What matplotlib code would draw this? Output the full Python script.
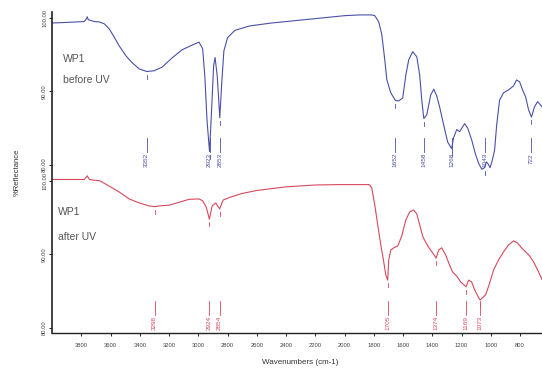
import matplotlib.pyplot as plt
import numpy as np

plt.rcParams['font.family'] = ['Liberation Sans', 'DejaVu Sans']

# WP1 before UV (wavenumber cm-1, %R)
before_wn = [4000, 3880, 3780, 3766, 3759, 3752, 3711, 3677, 3643, 3609, 3575, 3541,
             3493, 3452, 3404, 3352, 3302, 3247, 3179, 3111, 3042, 2995, 2970, 2955,
             2940, 2923, 2910, 2895, 2885, 2870, 2853, 2840, 2825, 2800, 2750, 2650,
             2500, 2300, 2100, 2000, 1900, 1814, 1793, 1766, 1745, 1725, 1711, 1684,
             1652, 1629, 1602, 1581, 1561, 1534, 1506, 1486, 1472, 1458, 1438, 1411,
             1390, 1370, 1349, 1322, 1295, 1268, 1254, 1233, 1213, 1192, 1179, 1158,
             1131, 1104, 1083, 1062, 1043, 1030, 1018, 1005, 990, 974, 960, 940,
             913, 878, 844, 824, 803, 783, 762, 742, 722, 701, 680, 650]
before_r = [99.3, 99.4, 99.5, 99.85, 100.15, 99.75, 99.5, 99.45, 99.2, 98.5, 97.4, 96.2,
            94.8, 93.9, 93.05, 92.7, 92.8, 93.3, 94.55, 95.65, 96.3, 96.7, 95.8, 92.0,
            86.0, 81.8, 87.0, 93.5, 94.6, 92.0, 86.4, 91.0, 95.5, 97.3, 98.3, 98.9,
            99.3, 99.7, 100.1, 100.3, 100.4, 100.4, 100.3, 99.45, 97.7, 94.3, 91.6, 89.8,
            88.75, 88.7, 89.1, 92.2, 94.3, 95.4, 94.7, 92.2, 88.8, 86.3, 86.8, 89.5,
            90.3, 89.4, 87.8, 85.4, 83.1, 82.2, 83.7, 84.8, 84.5, 85.2, 85.6, 85.0,
            83.4, 81.4, 80.2, 79.4, 79.6, 80.4, 80.1, 79.6, 80.6, 82.0, 85.4, 88.8,
            89.8, 90.2, 90.75, 91.55, 91.3, 90.2, 89.25, 87.5, 86.5, 87.9, 88.6, 87.9]

# WP1 after UV
after_wn = [4000, 3880, 3780, 3766, 3759, 3745, 3711, 3677, 3657, 3609, 3541, 3472,
            3404, 3336, 3298, 3268, 3199, 3131, 3063, 2995, 2970, 2945, 2924, 2905,
            2880, 2854, 2830, 2780, 2700, 2600, 2400, 2200, 2040, 1830, 1814, 1793,
            1773, 1752, 1732, 1718, 1705, 1698, 1684, 1663, 1636, 1609, 1581, 1554,
            1527, 1506, 1486, 1465, 1438, 1418, 1397, 1374, 1356, 1336, 1308, 1288,
            1261, 1233, 1206, 1169, 1152, 1131, 1111, 1083, 1073, 1035, 1008, 981,
            947, 913, 878, 844, 817, 790, 762, 735, 708, 680, 650]
after_r = [100.2, 100.2, 100.2, 100.5, 100.7, 100.2, 100.1, 100.05, 99.85, 99.3, 98.5, 97.55,
           97.0, 96.6, 96.5, 96.6, 96.7, 97.1, 97.5, 97.55, 97.3, 96.4, 94.8, 96.6,
           97.0, 96.2, 97.4, 97.8, 98.3, 98.7, 99.2, 99.45, 99.5, 99.5, 99.05, 96.7,
           94.0, 91.3, 89.0, 87.2, 86.5, 89.2, 90.6, 90.9, 91.15, 92.5, 94.7, 95.8,
           96.05, 95.5, 94.0, 92.4, 91.4, 90.75, 90.2, 89.5, 90.6, 90.9, 89.9, 88.85,
           87.6, 87.05, 86.25, 85.6, 86.5, 86.25, 85.2, 84.1, 83.8, 84.5, 86.1, 87.9,
           89.25, 90.35, 91.3, 91.85, 91.55, 90.9, 90.35, 89.8, 89.0, 87.9, 86.6]

before_peaks = [3352, 2923, 2853, 1652, 1458, 1268, 1043, 722]
after_peaks = [3298, 2924, 2854, 1705, 1374, 1169, 1073]

x_ticks = list(range(3800, 700, -200))
y_ticks = [80, 90, 100]

OFFSET = 22.2  # vertical shift of the upper spectrum
BLUE = '#4a50a8'
RED = '#d8485c'


def mark_peaks(ax, wn, r, peaks, offset, color):
    wn_up = np.array(wn)[::-1]
    r_up = np.array(r)[::-1]
    for p in peaks:
        v = np.interp(p, wn_up, r_up)
        ax.plot([p, p], [v - 0.45 + offset, v - 1.0 + offset], color=color, lw=0.6)
        ax.plot([p, p], [83.6 + offset, 81.8 + offset], color=color, lw=0.6)
        ax.text(p, 81.6 + offset, str(p), rotation=90, ha='center', va='top',
                fontsize=4.6, color=color)


fig = plt.figure(figsize=(5.42, 3.72), dpi=100)
ax = fig.add_axes([52 / 542, 1 - 333 / 372, 490 / 542, 321 / 372])

ax.plot(before_wn, np.array(before_r) + OFFSET, color=BLUE, lw=0.8)
ax.plot(after_wn, after_r, color=RED, lw=0.8)

mark_peaks(ax, before_wn, before_r, before_peaks, OFFSET, BLUE)
mark_peaks(ax, after_wn, after_r, after_peaks, 0, RED)

ax.set_xlim(4000, 650)
ax.set_ylim(79.3, 123.0)

ax.set_xticks(x_ticks)
ax.set_xticklabels([str(t) for t in x_ticks], fontsize=4.2, color='#444444')
yt = y_ticks + [t + OFFSET for t in y_ticks]
ax.set_yticks(yt)
ax.set_yticklabels(['%.2f' % t for t in y_ticks] * 2, rotation=90, va='center',
                   fontsize=4.2, color='#444444')
ax.tick_params(axis='x', length=2.5, width=0.6, pad=5)
ax.tick_params(axis='y', length=2.5, width=0.6, pad=1)

for side in ['top', 'right']:
    ax.spines[side].set_visible(False)
ax.spines['left'].set_linewidth(1.2)
ax.spines['bottom'].set_linewidth(1.0)
ax.spines['left'].set_color('#222222')
ax.spines['bottom'].set_color('#222222')

for t, yy in [('WP1', 59), ('before UV', 80)]:
    fig.text(63 / 542, 1 - yy / 372, t, fontsize=7.5, color='#555555',
             va='center', ha='left')
for t, yy in [('WP1', 212), ('after UV', 237)]:
    fig.text(58 / 542, 1 - yy / 372, t, fontsize=7.5, color='#555555',
             va='center', ha='left')

fig.text(17 / 542, 1 - 172 / 372, '%Reflectance', rotation=90, fontsize=5.5,
         color='#333333', va='center', ha='center')
fig.text(300 / 542, 1 - 363 / 372, 'Wavenumbers (cm-1)', fontsize=5.8,
         color='#333333', va='center', ha='center')

fig.savefig('out.png', dpi=100)
